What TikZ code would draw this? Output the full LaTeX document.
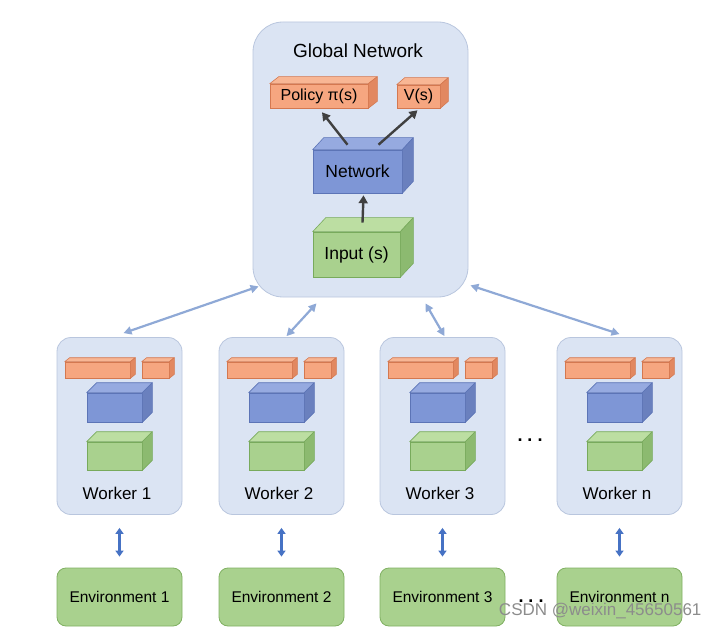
\documentclass[tikz,border=0pt]{standalone}
\usepackage{fontspec}
\setmainfont{Liberation Sans}
\usetikzlibrary{arrows.meta, calc}

\definecolor{panelfill}{RGB}{219,228,243}
\definecolor{paneldraw}{RGB}{185,198,222}
\definecolor{orfront}{RGB}{246,166,128}
\definecolor{ortop}{RGB}{248,182,148}
\definecolor{orside}{RGB}{226,136,96}
\definecolor{ordraw}{RGB}{212,120,80}
\definecolor{blfront}{RGB}{126,150,214}
\definecolor{bltop}{RGB}{150,170,224}
\definecolor{blside}{RGB}{106,128,190}
\definecolor{bldraw}{RGB}{92,116,182}
\definecolor{grfront}{RGB}{169,209,142}
\definecolor{grtop}{RGB}{188,222,162}
\definecolor{grside}{RGB}{140,186,112}
\definecolor{grdraw}{RGB}{120,170,92}
\definecolor{envdraw}{RGB}{128,176,98}
\definecolor{linkblue}{RGB}{143,169,214}
\definecolor{duplexblue}{RGB}{70,114,196}
\definecolor{darkarrow}{RGB}{64,64,64}

\tikzstyle{panel} = [rectangle, rounded corners=14pt, draw=paneldraw, fill=panelfill, line width=0.8pt]
\tikzstyle{face} = [rectangle, inner sep=0pt, line width=0.6pt, font=\fontsize{17.5}{19}\selectfont]
\tikzstyle{envbox} = [rectangle, rounded corners=9pt, draw=envdraw, fill=grfront, line width=0.8pt, minimum width=125pt, minimum height=58pt, font=\fontsize{15.5}{17}\selectfont]
\tikzstyle{caption} = [font=\fontsize{17}{19}\selectfont]
\tikzstyle{link} = [draw=linkblue, line width=2.2pt, {Triangle[length=8pt,width=8pt]}-{Triangle[length=8pt,width=8pt]}]
\tikzstyle{duplex} = [draw=duplexblue, line width=2.2pt, {Triangle[length=6pt,width=8pt]}-{Triangle[length=6pt,width=8pt]}, shorten <=13pt, shorten >=11pt]
\tikzstyle{flow} = [draw=darkarrow, line width=2.4pt, -{Triangle[length=8pt,width=9pt]}]
\tikzstyle{gap} = [font=\bfseries\fontsize{18}{18}\selectfont, anchor=base]

% front face as a node, top and side faces drawn on it
\newcommand{\cuboid}[8]{%
  \node[face, fill=#7front, draw=#7draw, minimum width=#3pt, minimum height=#4pt] (#1) at (#2) {#8};
  \filldraw[fill=#7top, draw=#7draw, line width=0.6pt, line join=round] (#1.north west) -- ++(#5,-#6) -- ($(#1.north east)+(#5,-#6)$) -- (#1.north east) -- cycle;
  \filldraw[fill=#7side, draw=#7draw, line width=0.6pt, line join=round] (#1.north east) -- ++(#5,-#6) -- ($(#1.south east)+(#5,-#6)$) -- (#1.south east) -- cycle;
}

\begin{document}
\begin{tikzpicture}[x=1pt, y=-1pt]
\useasboundingbox (0,0) rectangle (720,631);

% global network
\node (global) [panel, rounded corners=30pt, minimum width=215pt, minimum height=275pt] at (360.5,159.5) {};
\node (title) [font=\fontsize{19}{21}\selectfont] at (358,51) {Global Network};
\cuboid{policy}{319,96}{98}{24}{9}{7}{or}{\fontsize{16}{18}\selectfont Policy π(s)}
\cuboid{value}{418.5,96.5}{43}{23}{8}{7}{or}{\fontsize{16}{18}\selectfont V(s)}
\cuboid{net}{357.5,171.5}{89}{43}{11}{12}{bl}{Network}
\cuboid{input}{356.5,254.5}{87}{45}{13}{14}{gr}{Input (s)}

\draw [flow] ($(net.north)+(-10,-5)$) -- ($(policy.south)+(3,4)$);
\draw [flow] ($(net.north)+(21,-5)$) -- ($(value.south)+(-1,2)$);
\draw [flow] ($(input.north)+(6,-9)$) -- ($(net.south)+(6,2)$);

% workers and environments
\foreach \L/\n in {57/1, 219/2, 380/3, 557/n} {
  \node (w\n) [panel, minimum width=125pt, minimum height=177pt] at (\L+62.5,426) {};
  \cuboid{pol\n}{\L+40.5,370}{65}{16}{5}{4}{or}{}
  \cuboid{val\n}{\L+98.5,370}{27}{16}{5}{4}{or}{}
  \cuboid{net\n}{\L+57.5,407.5}{55}{29}{10}{10}{bl}{}
  \cuboid{in\n}{\L+57.5,456}{55}{28}{10}{10}{gr}{}
  \node (wl\n) [caption] at (\L+60,493) {Worker \n};
  \node (e\n) [envbox] at (\L+62.5,597) {Environment \n};
  \draw [duplex] (w\n) -- (e\n);
}

\draw [link] ($(global.south west)+(6,-11)$) -- ($(w1.north)+(4,-4)$);
\draw [link] ($(global.south)+(-44,6)$) -- ($(w2.north)+(5,-1)$);
\draw [link] ($(global.south)+(65,6)$) -- ($(w3.north)+(2,-1)$);
\draw [link] ($(global.south east)+(2,-12)$) -- ($(wn.north)+(0,-3)$);

\node (dotsw) [gap] at (530,441) {.\hspace{5pt}.\hspace{5pt}.};
\node (dotse) [gap] at (531,602) {.\hspace{5pt}.\hspace{5pt}.};

\node (mark) [text=black!45, font=\fontsize{17}{19}\selectfont, anchor=east] at (705,611) {CSDN @weixin\_45650561};
\end{tikzpicture}
\end{document}
